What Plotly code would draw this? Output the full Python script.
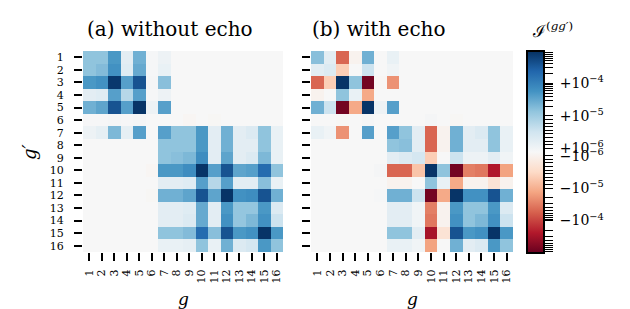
import numpy as np
import plotly.graph_objects as go

# ---------------- data ----------------
G = list(range(1, 17))
UNIT = 1e-6  # matrix entries below are in units of 1e-6

WITHOUT_ECHO = [
    [14, 14, 50, 3, 25, 0.3, 1.5, 0, 0, 0, 0, 0, 0, 0, 0, 0],
    [14, 18, 60, 3.5, 30, 0.3, 2, 0, 0, 0, 0, 0, 0, 0, 0, 0],
    [50, 60, 800, 40, 400, 0.5, 16, 0, 0, 0, 0, 0, 0, 0, 0, 0],
    [3, 3.5, 40, 8, 40, 0.3, 1.5, 0, 0, 0, 0, 0, 0, 0, 0, 0],
    [25, 35, 400, 40, 900, 1.5, 40, 0, 0, 0, 0, 0, 0, 0, 0, 0],
    [0.2, 0.2, 0.5, 0.2, 0.5, 0, 0, 0, -0.5, 0, -0.3, 0, 0, 0, 0, 0],
    [1.5, 2.5, 20, 2.5, 40, 0, 40, 14, 14, 50, 3, 25, 3, 4, 14, 2],
    [0, 0, 0, 0, 0, 0, 14, 14, 14, 50, 3, 25, 3, 3, 14, 2],
    [0, 0, 0, 0, 0, 0, 14, 16, 20, 70, 3, 35, 3, 4, 20, 2],
    [0, 0, 0, 0, 0, -0.5, 50, 50, 70, 900, 40, 400, 35, 40, 200, 14],
    [0, 0, 0, 0, 0, 0, 3, 3, 3.5, 40, 8, 40, 3, 3, 16, 2],
    [0, 0, 0, 0, 0, -0.3, 25, 25, 35, 400, 35, 900, 60, 70, 400, 25],
    [0, 0, 0, 0, 0, 0, 3, 3, 3.5, 30, 3, 50, 13, 13, 50, 4],
    [0, 0, 0, 0, 0, 0, 3, 3, 4, 30, 3, 60, 13, 20, 60, 6],
    [0, 0, 0, 0, 0, 0, 14, 14, 18, 200, 16, 400, 50, 60, 900, 50],
    [0, 0, 0, 0, 0, 0, 2, 2, 2.5, 14, 2, 25, 4, 5, 50, 14],
]

WITH_ECHO = [
    [16, 3, -50, -1, 25, 0, 2, 0, 0, 0, 0, 0, 0, 0, 0, 0],
    [3, 4, -7, 0, 6, 0, 1, 0, 0, 0, 0, 0, 0, 0, 0, 0],
    [-50, -7, 900, 14, -800, -0.5, -20, 0, 0, 0, 0, 0, 0, 0, 0, 0],
    [-1, 0, 14, 2, -12, 0, 0, 0, 0, 0, 0, 0, 0, 0, 0, 0],
    [25, 6, -800, -12, 900, 1.5, 40, 0, 0, 0, 0, 0, 0, 0, 0, 0],
    [0, 0, -0.3, 0, 0.5, 0, 0, 0, 0, 0.5, 0, -0.3, 0, 0, 0, 0],
    [2, 1, -20, 0, 40, 0, 40, 14, 3, -50, -1, 25, 3, 4, 14, 2],
    [0, 0, 0, 0, 0, 0, 14, 16, 3, -50, -1, 25, 3, 3, 14, 2],
    [0, 0, 0, 0, 0, 0, 3, 4, 5, -7, 0, 6, 1.5, 1.5, 3, 1],
    [0, 0, 0, 0, 0, 0.5, -50, -50, -8, 900, 14, -800, -30, -35, -250, -14],
    [0, 0, 0, 0, 0, 0, -1, -1, 0, 14, 2, -12, -1, -1, -4, -1],
    [0, 0, 0, 0, 0, 0.3, 25, 25, 6, -800, -12, 900, 60, 60, 400, 25],
    [0, 0, 0, 0, 0, 0, 3, 3, 1, -30, -1, 50, 14, 14, 50, 4],
    [0, 0, 0, 0, 0, 0, 3, 3, 1, -35, -1, 60, 14, 20, 60, 6],
    [0, 0, 0, 0, 0, 0, 14, 14, 3, -300, -4, 400, 50, 60, 900, 50],
    [0, 0, 0, 0, 0, 0, 2, 2, 1, -14, 0, 25, 3, 4, 50, 14],
]

CBAR_TICKS = [1e-4, 1e-5, 1e-6, -1e-6, -1e-5, -1e-4]
CBAR_LABELS = [" +10<sup>−4</sup>", " +10<sup>−5</sup>", " +10<sup>−6</sup>",
               " −10<sup>−6</sup>", " −10<sup>−5</sup>", " −10<sup>−4</sup>"]

TITLES = ["(a) without echo", "(b) with echo"]

# ---------------- symmetric log norm ----------------
LINTHRESH = 1e-5
LINSCALE = 1.0 / (1.0 - 0.1)
VMAX = 1e-3


def symlog(v):
    v = np.asarray(v, dtype=float)
    a = np.abs(v)
    safe = np.maximum(a, LINTHRESH)
    return np.where(a <= LINTHRESH, v / LINTHRESH * LINSCALE,
                    np.sign(v) * (LINSCALE + np.log10(safe / LINTHRESH)))


TMAX = float(symlog(VMAX))

# minor ticks (log in the log part, linear in the linear part)
minor = []
for n in (-5, -4):
    for k in range(2, 10):
        minor += [k * 10.0 ** n, -k * 10.0 ** n]
for k in range(2, 10):
    minor += [k * 1e-6, -k * 1e-6]
tick_vals = list(symlog(CBAR_TICKS)) + list(symlog(minor))
tick_text = CBAR_LABELS + [" "] * len(minor)

RDBU = ['rgb(103,0,31)', 'rgb(178,24,43)', 'rgb(214,96,77)', 'rgb(244,165,130)',
        'rgb(253,219,199)', 'rgb(247,247,247)', 'rgb(209,229,240)', 'rgb(146,197,222)',
        'rgb(67,147,195)', 'rgb(33,102,172)', 'rgb(5,48,97)']
colorscale = [[i / 10, c] for i, c in enumerate(RDBU)]

W, H = 630, 309
FONT = "DejaVu Serif"

fig = go.Figure()
fig.add_trace(go.Heatmap(z=symlog(np.array(WITHOUT_ECHO) * UNIT), x=G, y=G,
                         coloraxis="coloraxis", xaxis="x", yaxis="y", hoverinfo="skip"))
fig.add_trace(go.Heatmap(z=symlog(np.array(WITH_ECHO) * UNIT), x=G, y=G,
                         coloraxis="coloraxis", xaxis="x2", yaxis="y2", hoverinfo="skip"))

ydom = [1 - 244 / H, 1 - 43 / H]
common = dict(ticks="outside", ticklen=8, tickwidth=2, tickcolor="black",
              showgrid=False, zeroline=False, showline=False,
              tickmode="array", tickvals=G, ticktext=[str(g) for g in G],
              tickfont=dict(family=FONT, size=11, color="black"))

fig.update_layout(
    width=W, height=H,
    margin=dict(l=0, r=0, t=0, b=0),
    paper_bgcolor="white", plot_bgcolor="white",
    xaxis=dict(domain=[75 / W, 275 / W], range=[0.5, 16.5], anchor="y",
               tickangle=-90, ticklabelstandoff=4, **common),
    yaxis=dict(domain=ydom, range=[16.5, 0.5], anchor="x", ticklabelstandoff=8, **common),
    xaxis2=dict(domain=[303 / W, 505 / W], range=[0.5, 16.5], anchor="y2",
                tickangle=-90, ticklabelstandoff=4, **common),
    yaxis2=dict(domain=ydom, range=[16.5, 0.5], anchor="x2", showticklabels=False, **common),
    coloraxis=dict(
        colorscale=colorscale, cmin=-TMAX, cmax=TMAX,
        colorbar=dict(
            x=519 / W, xanchor="left", y=ydom[1], yanchor="top",
            len=202 / H, lenmode="fraction", thickness=17, thicknessmode="pixels",
            outlinewidth=2, outlinecolor="black",
            tickmode="array", tickvals=tick_vals, ticktext=tick_text,
            ticks="outside", ticklen=8, tickwidth=1, tickcolor="black",
            tickfont=dict(family=FONT, size=14, color="black"),
            xpad=0, ypad=0,
        ),
    ),
    showlegend=False,
)

ann = []
ann.append(dict(x=162 / W, y=1 - 21 / H, text=TITLES[0], size=20))
ann.append(dict(x=371 / W, y=1 - 21 / H, text=TITLES[1], size=20))
ann.append(dict(x=175 / W, y=1 - 291 / H, text="<i>g</i>", size=17))
ann.append(dict(x=404 / W, y=1 - 291 / H, text="<i>g</i>", size=17))
ann.append(dict(x=21 / W, y=1 - 144 / H, text="<i>g′</i>", size=18, textangle=-90))
out = []
for a in ann:
    s = a.pop("size")
    a.update(xref="paper", yref="paper", showarrow=False,
             xanchor="center", yanchor="middle",
             font=dict(family=FONT, size=s, color="black"))
    out.append(a)
out.append(dict(x=522 / W, y=1 - 22 / H, xref="paper", yref="paper", showarrow=False,
                xanchor="left", yanchor="middle",
                text="ℐ<sup>(<i>gg′</i>)</sup>",
                font=dict(family=FONT, size=17, color="black")))
fig.update_layout(annotations=out)

fig.write_html("out.html")
